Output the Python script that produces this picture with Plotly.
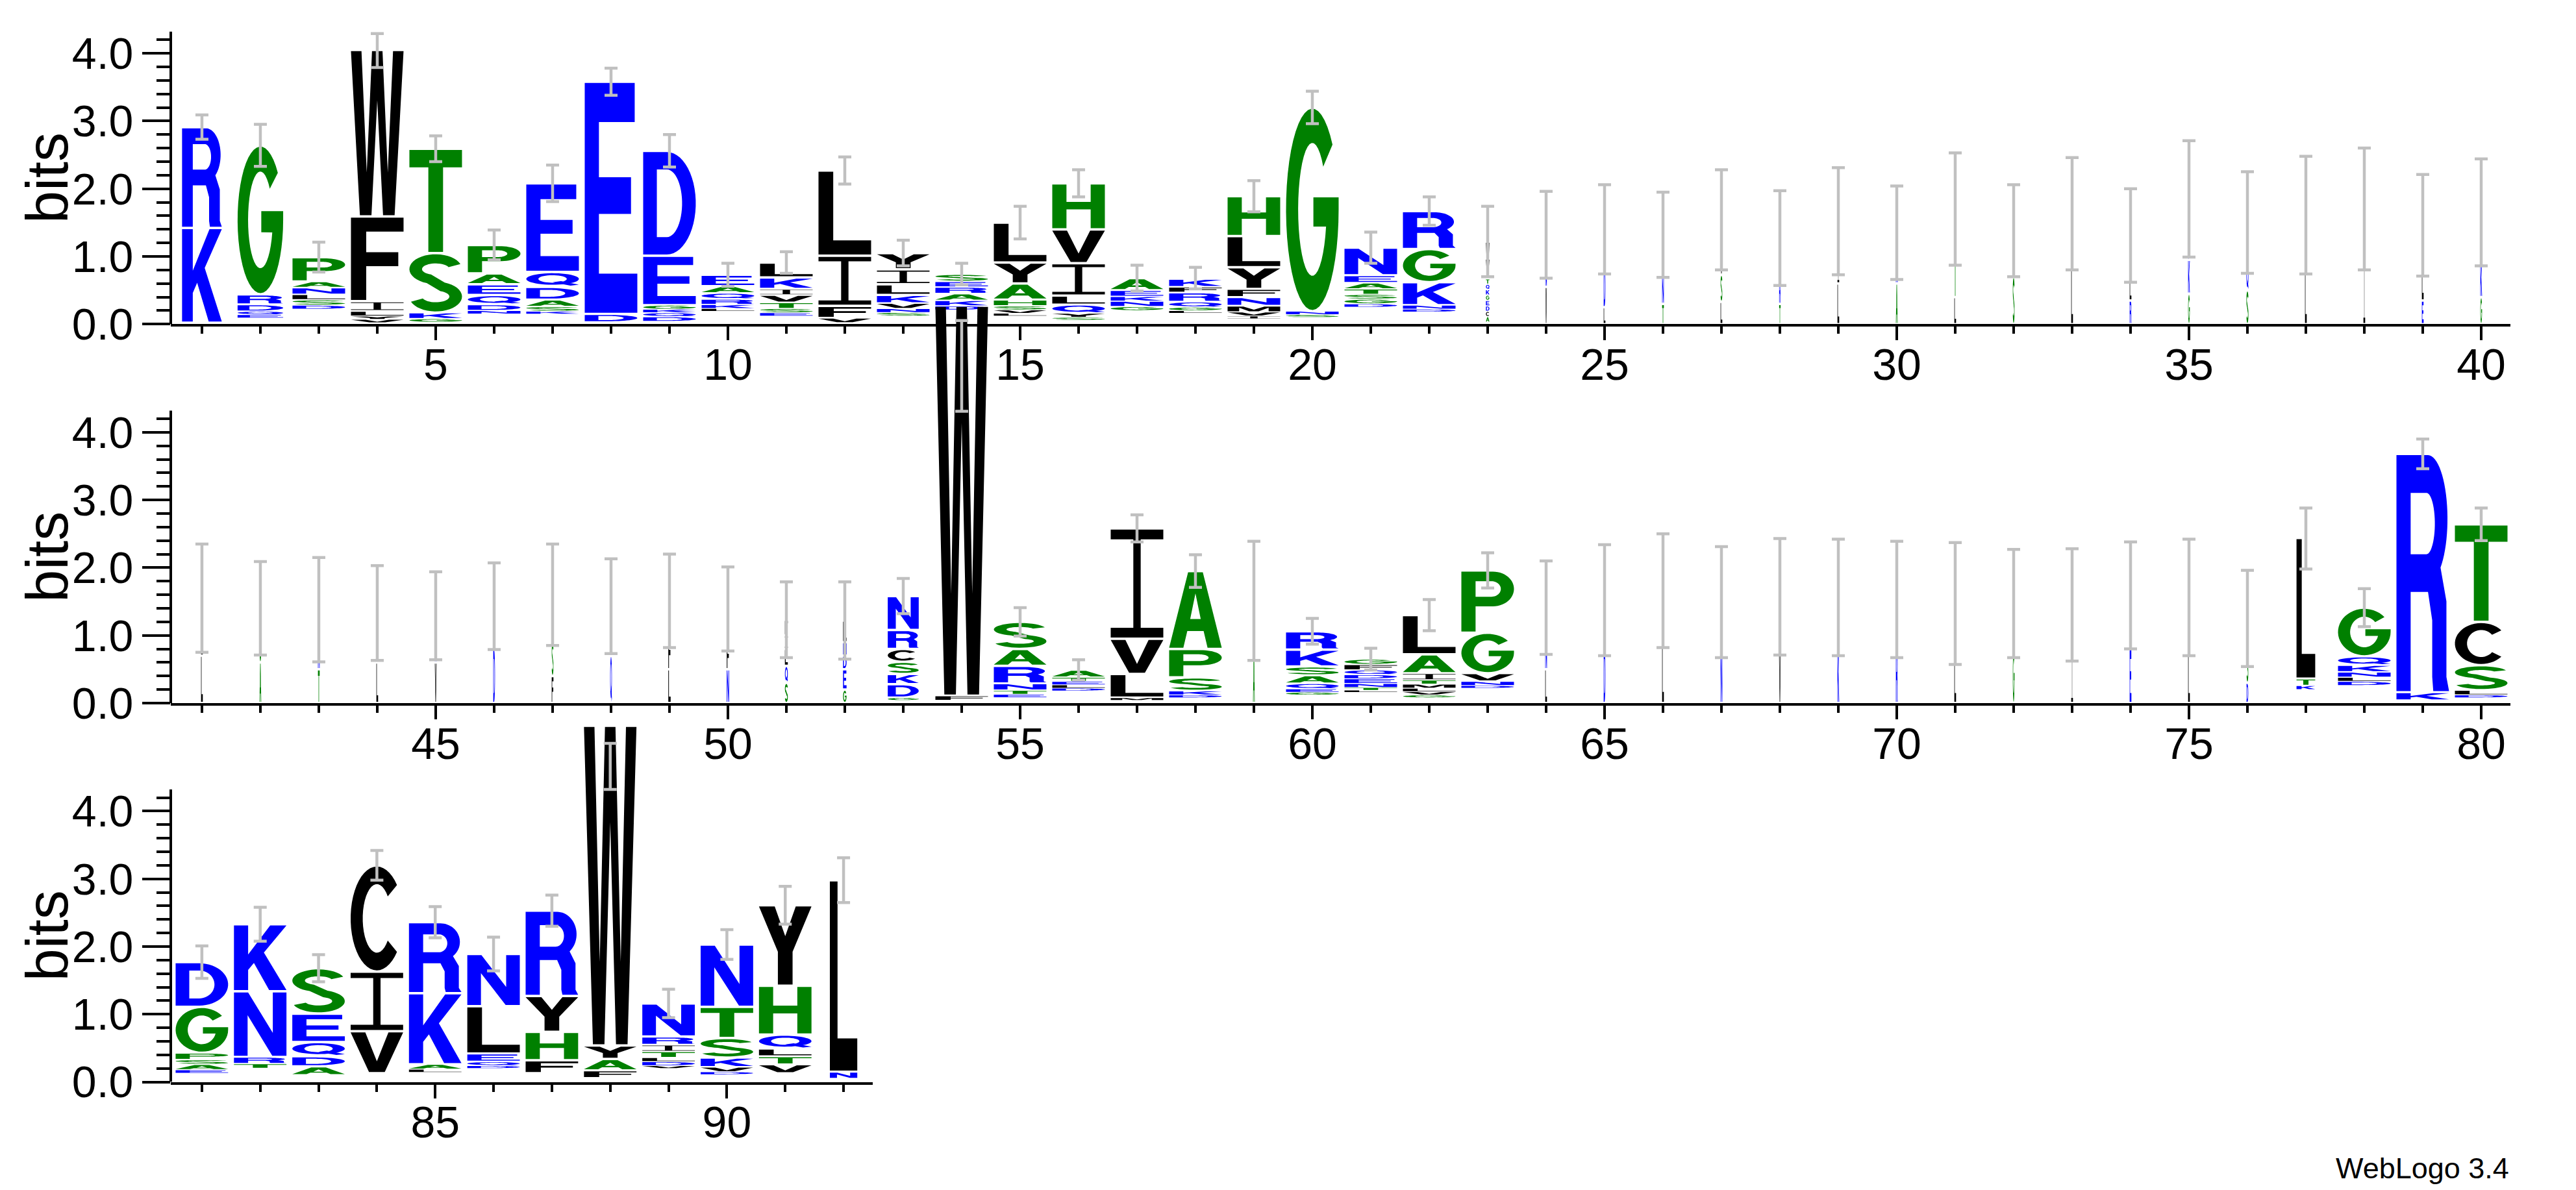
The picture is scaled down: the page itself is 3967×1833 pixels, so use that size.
import numpy as np
import plotly.graph_objects as go

# ===================== DATA =====================
row1_positions = list(range(1, 41))
row1_bases = [0.02, 0.09, 0.22, 0.02, 0.03, 0.15, 0.15, 0.03, 0.04, 0.19,
              0.12, 0.02, 0.12, 0.21, 0.12, 0.06, 0.20, 0.16, 0.08, 0.10,
              0.25, 0.18, 0.03, 0, 0, 0, 0, 0, 0, 0,
              0, 0, 0, 0, 0, 0, 0, 0, 0, 0]
row1_stacks = [
    "K1.40 R1.49", "E.05 Q.05 D.10 R.15 G2.20", "D.06 S.08 L.08 N.10 A.09 P.36",
    "V.05 Y.05 L.07 I.15 F1.25 W2.46", "G.05 K.09 S.88 T1.54", "N.05 D.09 Q.14 E.16 A.16 P.42",
    "K.04 S.07 A.10 D.19 Q.22 E1.31", "D.12 E3.43", "D.07 Q.06 K.05 G.06 E.73 D1.55",
    "L.04 K.06 R.08 Q.09 A.10 E.17", "E.05 S.06 T.09 V.11 I.09 K.17 L.22", "V.07 F.18 I.74 L1.26",
    "S.05 N.06 V.08 K.12 L.16 I.22 Y.24", "D.06 K.08 A.10 R.10 E.08 S.11",
    "L.04 V.05 S.06 H.09 A.24 Y.31 L.59", "S.04 Y.06 Q.13 L.13 I.48 V.50 H.68",
    "G.06 N.08 K.07 E.09 A.18", "L.04 G.05 Q.08 R.14 F.08 K.12",
    "I.04 V.06 M.09 N.13 F.12 Y.32 L.46 H.59", "S.04 N.05 G3.01",
    "D.05 G.07 S.07 T.08 A.09 E.11 N.41", "D.04 N.06 K.34 G.49 R.56",
    "A.08 C.08 D.08 E.08 G.08 K.08 Q.08 T.08 V.30 W.25", "V.55 N.25 F.52",
    "L.25 D.60 G.10 E.45", "T.30 N.40 L.62", "L.33 S.40 V.30 G.51", "T.30 R.35 V.62",
    "L.60 I.42 S.50", "A.60 N.15 G.30 V.30", "L.40 T1.30", "S.70 A.48 L.20", "L.80 V.83",
    "R.35 L.35 N.61", "G.45 K.50 D.30 I.60", "S.50 Q.40 A.60", "L.80 F.81", "I.90 L.80",
    "E.35 L.60 Y.51", "G.40 K.50 L.75",
]
row1_widths = [0.68, 0.78] + [0.9] * 20 + [0.06, 0.025, 0.03, 0.03, 0.03, 0.025, 0.03, 0.03, 0.03,
                                           0.03, 0.03, 0.03, 0.03, 0.035, 0.03, 0.03, 0.03, 0.03]
row1_err_center = [2.91, 2.64, 0.99, 4.04, 2.59, 1.17, 2.08, 3.58, 2.56, 0.73,
                   0.91, 2.27, 1.05, 0.74, 1.50, 2.08, 0.68, 0.68, 1.89, 3.20,
                   1.13, 1.67, 1.22, 1.32, 1.40, 1.32, 1.54, 1.27, 1.52, 1.35,
                   1.70, 1.38, 1.63, 1.31, 1.85, 1.50, 1.61, 1.70, 1.46, 1.65]
row1_err = [0.18, 0.31, 0.22, 0.25, 0.19, 0.22, 0.27, 0.20, 0.24, 0.17,
            0.16, 0.20, 0.19, 0.16, 0.24, 0.20, 0.19, 0.16, 0.23, 0.24,
            0.23, 0.21, 0.52, 0.64, 0.66, 0.63, 0.74, 0.70, 0.79, 0.69,
            0.83, 0.68, 0.83, 0.69, 0.86, 0.75, 0.87, 0.90, 0.75, 0.79]

row2_positions = list(range(41, 81))
row2_bases = [0] * 12 + [0.04, 0.04, 0.08, 0.18, 0.04, 0.08, 0, 0.12, 0.16, 0.08, 0.22] + [0] * 13 + \
             [0.20, 0.26, 0.04, 0.08]
row2_stacks = [
    "L.70 I.85", "A.60 S.80", "T.50 N.88", "L.60 G.73", "V.60 K.69", "D.80 E.63",
    "F.40 S.50 N.70", "Q.70 E.73", "L.50 F.50 S.51", "N.50 F.40 D.49",
    "S.30 Q.25 L.25 I.20 F.23", "G.20 E.30 D.20 N.20 L.32",
    "G.04 D.20 K.15 S.18 C.19 R.28 N.50", "F.07 W5.76", "E.05 T.06 N.10 R.26 A.25 S.40",
    "D.04 L.05 E.05 T.06 A.11", "M.04 L.35 V.52 I1.63", "D.04 K.06 S.20 P.42 A1.15",
    "A.80 S.71", "G.04 E.05 Q.08 A.12 S.13 K.25 R.27",
    "L.03 T.04 N.06 E.07 D.06 Q.07 F.08 G.08", "G.04 V.05 L.05 M.06 T.06 I.10 A.28 L.58",
    "D.04 N.06 V.12 G.60 P.92", "L.50 N.50 G.41", "D.80 G.72", "L.90 I.76", "N.80 A.69",
    "V.80 L.77", "K.80 N.76", "R.80 E.73", "L.80 V.67", "G.80 S.67", "I.70 L.75",
    "E.80 T.79", "L.80 G.76", "D.30 S.50 L.45", "K.06 T.10 L2.08",
    "D.06 L.06 N.08 K.10 Q.13 G.72", "K.12 R3.52", "D.04 L.07 S.37 C.64 T1.44",
]
row2_widths = [0.03] * 8 + [0.04, 0.04, 0.05, 0.06, 0.53] + [0.9] * 5 + [0.03] + [0.9] * 4 + \
              [0.03] * 13 + [0.32, 0.9, 0.9, 0.9]
row2_err_center = [1.55, 1.40, 1.38, 1.33, 1.29, 1.43, 1.60, 1.43, 1.51, 1.39,
                   1.23, 1.22, 1.58, 4.98, 1.20, 0.49, 2.58, 1.95, 1.51, 1.06,
                   0.65, 1.30, 1.96, 1.41, 1.52, 1.66, 1.49, 1.57, 1.56, 1.53,
                   1.47, 1.47, 1.45, 1.59, 1.56, 1.25, 2.43, 1.41, 3.68, 2.64]
row2_err = [0.80, 0.69, 0.77, 0.70, 0.65, 0.64, 0.75, 0.70, 0.69, 0.62,
            0.56, 0.57, 0.26, 0.67, 0.21, 0.15, 0.20, 0.24, 0.88, 0.19,
            0.16, 0.23, 0.26, 0.69, 0.82, 0.84, 0.82, 0.86, 0.86, 0.86,
            0.90, 0.80, 0.83, 0.79, 0.86, 0.71, 0.45, 0.28, 0.22, 0.24]

row3_positions = list(range(81, 93))
row3_bases = [0.13, 0.20, 0.10, 0.13, 0.14, 0.20, 0.13, 0.06, 0.20, 0.11, 0.13, 0.05]
row3_stacks = [
    "E.05 A.08 S.07 P.10 G.68 D.66", "T.07 R.10 N.97 K.99", "A.13 D.15 Q.21 E.42 S.67",
    "V.62 I.88 C1.57", "L.05 A.07 K1.05 R1.05", "D.04 Q.06 E.12 L.70 N.77",
    "F.19 H.42 Y.53 R1.26", "F.11 A.17 Y.20 W4.72", "V.04 D.06 L.06 T.09 I.10 R.12 N.49",
    "D.04 V.07 K.14 S.29 T.46 N.92", "V.13 T.12 L.11 Q.21 H.72 Y1.19", "N.10 L2.83",
]
row3_widths = [0.9] * 11 + [0.47]
row3_err_center = [1.77, 2.33, 1.68, 3.20, 2.36, 1.89, 2.53, 4.66, 1.16, 2.03, 2.61, 2.98]
row3_err = [0.24, 0.25, 0.20, 0.22, 0.23, 0.25, 0.23, 0.34, 0.21, 0.22, 0.28, 0.33]

y_tick_values = [0, 1, 2, 3, 4]
y_tick_labels = ["0.0", "1.0", "2.0", "3.0", "4.0"]
max_bits = 4.32
ylabel = "bits"
credit = "WebLogo 3.4"

# ===================== STYLE =====================
BLUE, GREEN, BLACK = "#0000FF", "#008000", "#000000"
COLOR = {}
COLOR.update({c: BLUE for c in "RKDENQ"})
COLOR.update({c: GREEN for c in "SGHTAP"})
COLOR.update({c: BLACK for c in "YVMCLFIW"})
FONT = "Liberation Sans, Arial, sans-serif"
W_PX, H_PX = 3967, 1833
PX_PER_BIT = 104.3


def arc(cx, cy, rx, ry, a0, a1, n=28):
    t = np.radians(np.linspace(a0, a1, n))
    return list(zip(cx + rx * np.cos(t), cy + ry * np.sin(t)))


GLYPHS = {
    "A": [([(0, 0), (0.36, 1), (0.64, 1), (1, 0), (0.73, 0), (0.655, 0.22), (0.345, 0.22), (0.27, 0)], False),
          ([(0.40, 0.38), (0.5, 0.72), (0.60, 0.38)], True)],
    "C": [(arc(.5, .5, .5, .5, 40, 320, 40) + arc(.5, .5, .27, .33, 320, 40, 32), False)],
    "D": [([(0, 0), (0, 1), (0.45, 1)] + arc(.45, .5, .55, .5, 90, -90) + [(0.45, 0)], False),
          ([(0.26, 0.17), (0.26, 0.83), (0.45, 0.83)] + arc(.45, .5, .29, .33, 90, -90) + [(0.45, 0.17)], True)],
    "E": [([(0, 0), (0, 1), (0.95, 1), (0.95, 0.83), (0.27, 0.83), (0.27, 0.59), (0.88, 0.59), (0.88, 0.43),
            (0.27, 0.43), (0.27, 0.17), (1, 0.17), (1, 0)], False)],
    "F": [([(0, 0), (0, 1), (1, 1), (1, 0.83), (0.29, 0.83), (0.29, 0.58), (0.9, 0.58), (0.9, 0.41),
            (0.29, 0.41), (0.29, 0)], False)],
    "G": [(arc(.5, .5, .5, .5, 40, 360, 44) + [(1, 0.56), (0.52, 0.56), (0.52, 0.415)]
           + arc(.5, .5, .27, .33, 345, 40, 36), False)],
    "H": [([(0, 0), (0, 1), (0.27, 1), (0.27, 0.6), (0.73, 0.6), (0.73, 1), (1, 1), (1, 0), (0.73, 0),
            (0.73, 0.43), (0.27, 0.43), (0.27, 0)], False)],
    "I": [([(0, 0), (1, 0), (1, 0.09), (0.57, 0.09), (0.57, 0.91), (1, 0.91), (1, 1), (0, 1), (0, 0.91),
            (0.43, 0.91), (0.43, 0.09), (0, 0.09)], False)],
    "K": [([(0, 0), (0, 1), (0.27, 1), (0.27, 0.55), (0.69, 1), (1, 1), (0.57, 0.58), (1, 0), (0.67, 0),
            (0.38, 0.42), (0.27, 0.31), (0.27, 0)], False)],
    "L": [([(0, 0), (0, 1), (0.28, 1), (0.28, 0.17), (1, 0.17), (1, 0)], False)],
    "M": [([(0, 0), (0, 1), (0.3, 1), (0.5, 0.32), (0.7, 1), (1, 1), (1, 0), (0.78, 0), (0.78, 0.74),
            (0.59, 0), (0.41, 0), (0.22, 0.74), (0.22, 0)], False)],
    "N": [([(0, 0), (0, 1), (0.27, 1), (0.74, 0.36), (0.74, 1), (1, 1), (1, 0), (0.73, 0), (0.26, 0.64),
            (0.26, 0)], False)],
    "P": [([(0, 0), (0, 1), (0.6, 1)] + arc(.6, .71, .4, .29, 90, -90) + [(0.6, 0.42), (0.27, 0.42), (0.27, 0)], False),
          ([(0.27, 0.58), (0.27, 0.84), (0.57, 0.84)] + arc(.57, .71, .18, .13, 90, -90) + [(0.57, 0.58)], True)],
    "Q": [(arc(.5, .54, .5, .46, 0, 360, 48), False),
          (arc(.5, .54, .27, .3, 0, 360, 40), True),
          ([(0.5, 0.27), (0.66, 0.37), (1.0, 0.08), (0.84, 0.0)], False)],
    "R": [([(0, 0), (0, 1), (0.6, 1)] + arc(.6, .73, .37, .27, 90, -50) +
           [(0.95, 0.38), (0.95, 0.06), (1, 0), (0.7, 0), (0.68, 0.06), (0.68, 0.3), (0.6, 0.42),
            (0.27, 0.42), (0.27, 0)], False),
          ([(0.27, 0.58), (0.27, 0.84), (0.57, 0.84)] + arc(.57, .71, .16, .13, 90, -90) + [(0.57, 0.58)], True)],
    "S": [(arc(.5, .74, .5, .26, 20, 250) + arc(.5, .26, .26, .10, 70, -160) +
           arc(.5, .26, .5, .26, -160, 70) + arc(.5, .74, .26, .10, 250, 20), False)],
    "T": [([(0.36, 0), (0.36, 0.83), (0, 0.83), (0, 1), (1, 1), (1, 0.83), (0.64, 0.83), (0.64, 0)], False)],
    "V": [([(0, 1), (0.28, 1), (0.5, 0.27), (0.72, 1), (1, 1), (0.65, 0), (0.35, 0)], False)],
    "W": [([(0, 1), (0.2, 1), (0.3, 0.26), (0.4, 1), (0.6, 1), (0.7, 0.26), (0.8, 1), (1, 1),
            (0.83, 0), (0.61, 0), (0.5, 0.7), (0.39, 0), (0.17, 0)], False)],
    "Y": [([(0, 1), (0.3, 1), (0.5, 0.62), (0.7, 1), (1, 1), (0.64, 0.42), (0.64, 0), (0.36, 0),
            (0.36, 0.42)], False)],
}


def signed_area(a):
    x, y = a[:, 0], a[:, 1]
    return 0.5 * np.sum(x * np.roll(y, -1) - np.roll(x, -1) * y)


def glyph_path(letter, x0, x1, y0, y1):
    out = []
    for pts, hole in GLYPHS[letter]:
        arr = np.array(pts, dtype=float)
        a = signed_area(arr)
        if (hole and a > 0) or ((not hole) and a < 0):
            arr = arr[::-1]
        X = x0 + arr[:, 0] * (x1 - x0)
        Y = y0 + arr[:, 1] * (y1 - y0)
        out.append("M " + " L ".join(f"{x:.4f},{y:.4f}" for x, y in zip(X, Y)) + " Z ")
    return "".join(out)


def parse(stack):
    return [(tok[0], float(tok[1:])) for tok in stack.split()]


rows = [
    dict(pos=row1_positions, bases=row1_bases, stacks=row1_stacks, widths=row1_widths,
         ec=row1_err_center, ee=row1_err, zero_px=499.3, ymax=4.7, xr=(0.467, 40.5), xend=3866),
    dict(pos=row2_positions, bases=row2_bases, stacks=row2_stacks, widths=row2_widths,
         ec=row2_err_center, ee=row2_err, zero_px=1083.0, ymax=6.0, xr=(40.467, 80.5), xend=3866),
    dict(pos=row3_positions, bases=row3_bases, stacks=row3_stacks, widths=row3_widths,
         ec=row3_err_center, ee=row3_err, zero_px=1666.6, ymax=5.4, xr=(80.467, 92.5), xend=1344),
]

fig = go.Figure()
shapes = []
annotations = []
layout_axes = {}
minor_y = [round(0.2 * k, 1) for k in range(1, 22) if k % 5]

for i, r in enumerate(rows):
    sfx = "" if i == 0 else str(i + 1)
    xname, yname = "x" + sfx, "y" + sfx
    paths = {BLUE: [], GREEN: [], BLACK: []}
    for p, base, st, w in zip(r["pos"], r["bases"], r["stacks"], r["widths"]):
        y = base
        for letter, h in parse(st):
            pad = min(0.018, 0.12 * h)
            paths[COLOR[letter]].append(glyph_path(letter, p - w / 2, p + w / 2, y + pad, y + h - pad))
            y += h
    for col, plist in paths.items():
        if plist:
            shapes.append(dict(type="path", path="".join(plist), xref=xname, yref=yname,
                               fillcolor=col, line=dict(width=0), fillrule="nonzero", layer="below"))
    fig.add_trace(go.Scatter(
        x=r["pos"], y=r["ec"], mode="markers", xaxis=xname, yaxis=yname,
        marker=dict(size=2, color="rgba(0,0,0,0)"),
        error_y=dict(type="data", array=r["ee"], visible=True, color="#C0C0C0", thickness=4.5, width=10),
        hoverinfo="skip", showlegend=False))
    shapes.append(dict(type="line", xref=xname + " domain", yref=yname, x0=0, x1=0, y0=0, y1=max_bits,
                       line=dict(color="black", width=4), layer="above"))
    zp = r["zero_px"]
    ydom = [(H_PX - zp) / H_PX, (H_PX - (zp - r["ymax"] * PX_PER_BIT)) / H_PX]
    xdom = [263 / W_PX, r["xend"] / W_PX]
    tickfont = dict(family=FONT, size=68, color="black")
    layout_axes["xaxis" + sfx] = dict(
        domain=xdom, range=list(r["xr"]), anchor=yname, tickmode="linear", tick0=0, dtick=5,
        ticks="outside", ticklen=21, tickwidth=4, tickcolor="black", showline=True, linewidth=4,
        linecolor="black", showgrid=False, zeroline=False, tickfont=tickfont, fixedrange=True,
        ticklabelstandoff=-21, automargin=False,
        minor=dict(tickmode="linear", tick0=0, dtick=1, ticks="outside", ticklen=11, tickwidth=4,
                   tickcolor="black", showgrid=False))
    layout_axes["yaxis" + sfx] = dict(
        domain=ydom, range=[0, r["ymax"]], anchor=xname, tickmode="array", tickvals=y_tick_values,
        ticktext=y_tick_labels, ticks="outside", ticklen=43, tickwidth=4, tickcolor="black",
        showline=False, showgrid=False, zeroline=False, tickfont=tickfont, fixedrange=True,
        automargin=False,
        minor=dict(tickmode="array", tickvals=minor_y, ticks="outside", ticklen=21, tickwidth=4,
                   tickcolor="black", showgrid=False))
    ymid_px = zp - max_bits * PX_PER_BIT / 2
    annotations.append(dict(text=ylabel, xref="paper", yref="paper", x=73 / W_PX,
                            y=(H_PX - ymid_px) / H_PX, xanchor="center", yanchor="middle",
                            textangle=-90, showarrow=False,
                            font=dict(family=FONT, size=90, color="black")))

annotations.append(dict(text=credit, xref="paper", yref="paper", x=3866 / W_PX, y=(H_PX - 1799) / H_PX,
                        xanchor="right", yanchor="middle", showarrow=False,
                        font=dict(family=FONT, size=45, color="black")))

fig.update_layout(
    template="none",
    width=W_PX, height=H_PX, autosize=False, margin=dict(l=0, r=0, t=0, b=0, pad=0, autoexpand=False),
    paper_bgcolor="white", plot_bgcolor="rgba(0,0,0,0)",
    shapes=shapes, annotations=annotations, showlegend=False,
    **layout_axes)

post = ("var gd=document.getElementById('{plot_id}');"
        "gd.style.position='fixed';gd.style.left='0px';gd.style.top='0px';"
        "document.documentElement.style.margin='0';document.body.style.margin='0';"
        "document.documentElement.style.overflow='hidden';document.body.style.overflow='hidden';")
fig.write_html("out.html", config={"displayModeBar": False, "staticPlot": True, "responsive": False},
               post_script=post)
